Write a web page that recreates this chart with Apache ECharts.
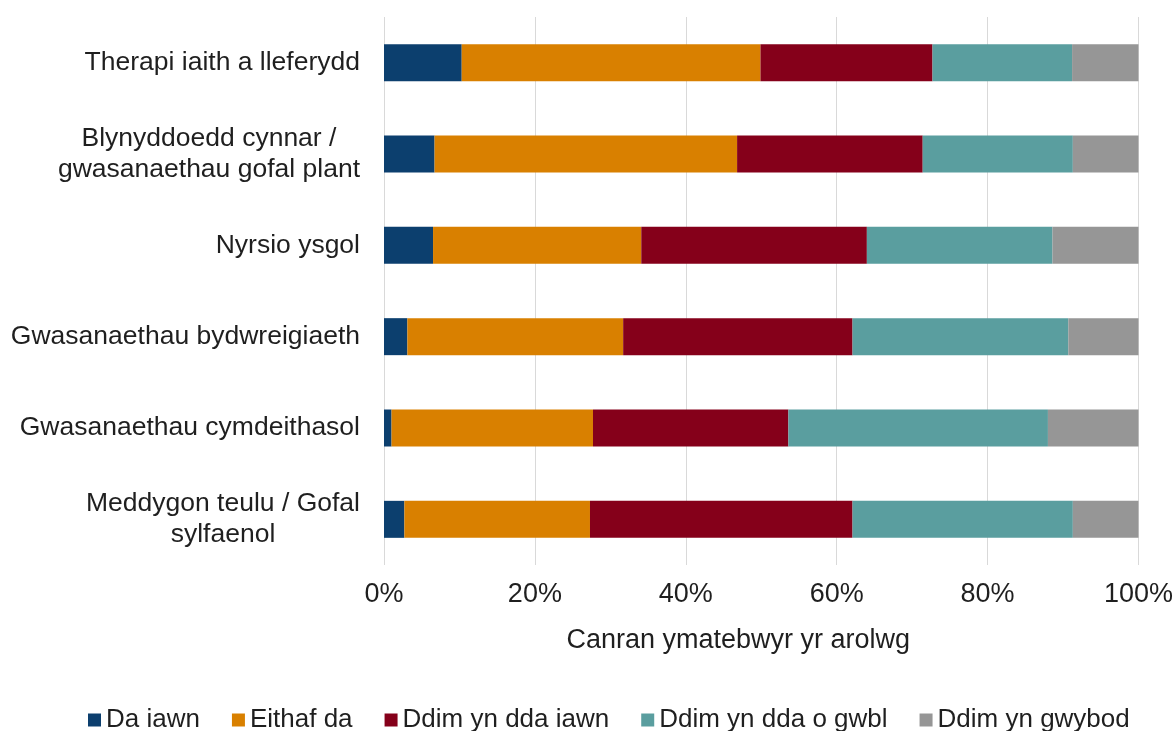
<!DOCTYPE html>
<html>
<head>
<meta charset="utf-8">
<script src="https://cdn.jsdelivr.net/npm/echarts@6/dist/echarts.min.js"></script>
<style>
  html, body { margin: 0; padding: 0; background: #ffffff; overflow: hidden; }
  #chart { width: 1176px; height: 731px; }
</style>
</head>
<body>
<div id="chart"></div>
<script>
// Service categories (top to bottom)
const categories = [
  'Therapi iaith a lleferydd',
  'Blynyddoedd cynnar /\ngwasanaethau gofal plant',
  'Nyrsio ysgol',
  'Gwasanaethau bydwreigiaeth',
  'Gwasanaethau cymdeithasol',
  'Meddygon teulu / Gofal\nsylfaenol'
];

// Share of survey respondents (%) for each rating
const daIawn        = [10.3, 6.7, 6.5, 3.1, 1.0, 2.7];
const eithafDa      = [39.6, 40.1, 27.6, 28.6, 26.7, 24.6];
const ddimDdaIawn   = [22.8, 24.6, 29.9, 30.4, 25.9, 34.8];
const ddimDdaGwbl   = [18.5, 19.9, 24.6, 28.6, 34.4, 29.2];
const ddimYnGwybod  = [8.8, 8.7, 11.4, 9.3, 12.0, 8.7];

const seriesNames = ['Da iawn', 'Eithaf da', 'Ddim yn dda iawn', 'Ddim yn dda o gwbl', 'Ddim yn gwybod'];
const seriesData  = [daIawn, eithafDa, ddimDdaIawn, ddimDdaGwbl, ddimYnGwybod];
const colors      = ['#0c3f6e', '#d98000', '#85001a', '#5a9e9f', '#969696'];

const xTicks = [0, 20, 40, 60, 80, 100];

const font = '"Liberation Sans", Arial, sans-serif';

const chart = echarts.init(document.getElementById('chart'), null, { renderer: 'canvas', width: 1176, height: 731 });

chart.setOption({
  animation: false,
  backgroundColor: '#ffffff',
  color: colors,
  grid: { left: 384, width: 755, top: 17, height: 548, containLabel: false },
  xAxis: {
    type: 'value',
    min: xTicks[0],
    max: xTicks[xTicks.length - 1],
    interval: 20,
    axisLine: { show: false },
    axisTick: { show: false },
    splitLine: { show: true, lineStyle: { color: '#d9d9d9', width: 1 } },
    axisLabel: {
      margin: 16,
      color: '#1f1f1f',
      fontFamily: font,
      fontSize: 27,
      formatter: v => v + '%'
    },
    name: 'Canran ymatebwyr yr arolwg',
    nameLocation: 'middle',
    nameGap: 62,
    nameTextStyle: {
      color: '#1f1f1f',
      fontFamily: font,
      fontSize: 27,
      padding: [0, 46, 0, 0]
    }
  },
  yAxis: {
    type: 'category',
    inverse: true,
    data: categories,
    axisLine: { show: false },
    axisTick: { show: false },
    splitLine: { show: false },
    axisLabel: {
      margin: 24,
      align: 'right',
      color: '#1f1f1f',
      // wrapped labels are centred line by line, the block stays right-aligned
      formatter: v => v.split('\n').map(l => '{c|' + l + '}').join('\n'),
      rich: {
        c: { align: 'center', fontFamily: font, fontSize: 26.5, lineHeight: 31, color: '#1f1f1f' }
      }
    }
  },
  legend: {
    left: 83,
    top: 702,
    itemWidth: 13,
    itemHeight: 13,
    itemGap: 32,
    icon: 'rect',
    textStyle: { color: '#1f1f1f', fontFamily: font, fontSize: 26, padding: [0, 0, 0, 0] },
    data: seriesNames
  },
  series: seriesNames.map((name, i) => ({
    name,
    type: 'bar',
    stack: 'total',
    barWidth: 37,
    data: seriesData[i],
    itemStyle: { color: colors[i] }
  }))
});
</script>
</body>
</html>
